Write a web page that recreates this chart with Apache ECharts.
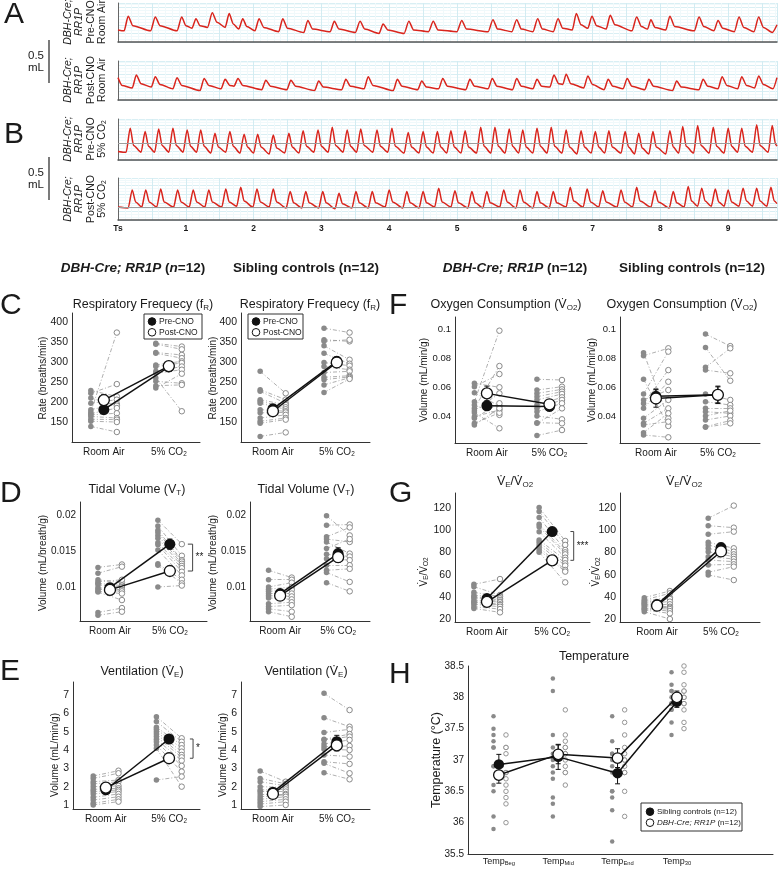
<!DOCTYPE html>
<html><head><meta charset="utf-8">
<script src="https://cdn.jsdelivr.net/npm/echarts@6.0.0/dist/echarts.min.js"></script>
<style>html,body{margin:0;padding:0;background:#fff}#c{width:778px;height:871px}</style>
</head><body><div id="c"></div>
<script>
// ===== Traces (time s, volume mL) =====
const traceA1 = [[0,0.14],[0.09,0.13],[0.15,0.30],[0.22,0.19],[0.48,0.13],[0.55,0.29],[0.62,0.19],[0.87,0.13],[0.94,0.29],[1.00,0.19],[1.09,0.16],[1.15,0.27],[1.21,0.19],[1.32,0.17],[1.39,0.34],[1.46,0.23],[1.58,0.17],[1.64,0.33],[1.70,0.21],[1.78,0.15],[1.84,0.27],[1.90,0.18],[2.02,0.13],[2.08,0.27],[2.15,0.17],[2.37,0.12],[2.43,0.27],[2.50,0.16],[2.74,0.11],[2.80,0.25],[2.87,0.15],[3.13,0.12],[3.19,0.24],[3.26,0.15],[3.50,0.11],[3.57,0.24],[3.64,0.15],[3.85,0.10],[3.91,0.21],[3.98,0.14],[4.22,0.10],[4.29,0.24],[4.36,0.14],[4.58,0.12],[4.65,0.24],[4.72,0.14],[5.00,0.12],[5.07,0.25],[5.14,0.15],[5.46,0.12],[5.53,0.26],[5.60,0.15],[5.81,0.12],[5.88,0.26],[5.95,0.15],[6.12,0.12],[6.19,0.27],[6.26,0.15],[6.42,0.12],[6.49,0.27],[6.56,0.16],[6.70,0.14],[6.76,0.33],[6.83,0.20],[6.93,0.16],[6.99,0.30],[7.06,0.19],[7.20,0.15],[7.26,0.31],[7.33,0.20],[7.58,0.13],[7.65,0.29],[7.72,0.18],[7.81,0.15],[7.86,0.26],[7.92,0.17],[8.08,0.14],[8.14,0.30],[8.21,0.18],[8.50,0.13],[8.57,0.29],[8.64,0.18],[8.79,0.13],[8.85,0.25],[8.92,0.16],[9.09,0.12],[9.16,0.29],[9.23,0.17],[9.38,0.12],[9.45,0.29],[9.52,0.17],[9.65,0.11],[9.72,0.20]];
const traceA2 = [[0,0.26],[0.06,0.17],[0.21,0.14],[0.27,0.29],[0.34,0.19],[0.49,0.15],[0.55,0.27],[0.62,0.18],[0.81,0.13],[0.87,0.26],[0.94,0.17],[1.21,0.11],[1.27,0.25],[1.34,0.17],[1.52,0.13],[1.58,0.24],[1.65,0.17],[1.71,0.16],[1.77,0.25],[1.84,0.17],[2.12,0.12],[2.18,0.23],[2.25,0.16],[2.49,0.12],[2.55,0.23],[2.62,0.16],[2.90,0.11],[2.96,0.22],[3.03,0.15],[3.30,0.12],[3.36,0.24],[3.43,0.16],[3.63,0.13],[3.69,0.27],[3.76,0.17],[4.06,0.11],[4.12,0.24],[4.19,0.16],[4.42,0.12],[4.48,0.22],[4.55,0.15],[4.73,0.13],[4.79,0.25],[4.86,0.16],[5.13,0.12],[5.19,0.24],[5.26,0.16],[5.46,0.13],[5.52,0.25],[5.59,0.16],[5.82,0.12],[5.88,0.25],[5.95,0.16],[6.12,0.13],[6.18,0.24],[6.25,0.16],[6.37,0.15],[6.43,0.29],[6.50,0.19],[6.56,0.18],[6.61,0.30],[6.68,0.19],[6.87,0.14],[6.93,0.28],[7.00,0.18],[7.17,0.12],[7.23,0.24],[7.30,0.16],[7.45,0.13],[7.51,0.25],[7.58,0.16],[7.77,0.12],[7.83,0.24],[7.90,0.16],[8.18,0.11],[8.24,0.22],[8.31,0.15],[8.57,0.12],[8.63,0.24],[8.70,0.16],[8.85,0.13],[8.91,0.27],[8.98,0.17],[9.14,0.13],[9.20,0.27],[9.27,0.17],[9.39,0.14],[9.45,0.28],[9.52,0.18],[9.66,0.13],[9.72,0.26]];
const traceB1 = [[0,0.10],[0.12,0.09],[0.18,0.37],[0.23,0.17],[0.34,0.09],[0.40,0.33],[0.45,0.16],[0.54,0.09],[0.60,0.36],[0.65,0.17],[0.75,0.09],[0.81,0.37],[0.86,0.17],[0.96,0.09],[1.02,0.35],[1.07,0.16],[1.16,0.09],[1.22,0.35],[1.27,0.16],[1.37,0.08],[1.43,0.31],[1.48,0.15],[1.59,0.09],[1.65,0.33],[1.70,0.16],[1.80,0.08],[1.86,0.30],[1.91,0.15],[2.00,0.08],[2.06,0.30],[2.11,0.15],[2.23,0.07],[2.29,0.29],[2.34,0.14],[2.46,0.08],[2.52,0.31],[2.57,0.15],[2.67,0.08],[2.73,0.34],[2.78,0.16],[2.89,0.09],[2.95,0.35],[3.00,0.16],[3.10,0.09],[3.16,0.38],[3.21,0.17],[3.32,0.09],[3.38,0.35],[3.43,0.16],[3.52,0.09],[3.58,0.36],[3.63,0.17],[3.76,0.09],[3.82,0.35],[3.87,0.16],[3.98,0.09],[4.04,0.37],[4.09,0.16],[4.22,0.08],[4.28,0.32],[4.33,0.15],[4.44,0.08],[4.50,0.33],[4.55,0.15],[4.65,0.08],[4.71,0.33],[4.76,0.15],[4.85,0.08],[4.91,0.34],[4.96,0.15],[5.06,0.08],[5.12,0.34],[5.17,0.15],[5.29,0.08],[5.35,0.38],[5.40,0.16],[5.50,0.08],[5.56,0.38],[5.61,0.16],[5.71,0.08],[5.77,0.36],[5.82,0.16],[5.91,0.08],[5.97,0.35],[6.02,0.15],[6.12,0.08],[6.18,0.37],[6.23,0.16],[6.33,0.08],[6.39,0.38],[6.44,0.16],[6.55,0.08],[6.61,0.35],[6.66,0.15],[6.77,0.07],[6.83,0.34],[6.88,0.15],[6.98,0.08],[7.04,0.33],[7.09,0.15],[7.18,0.08],[7.24,0.34],[7.29,0.15],[7.42,0.08],[7.48,0.33],[7.53,0.15],[7.62,0.07],[7.68,0.31],[7.73,0.14],[7.83,0.07],[7.89,0.33],[7.94,0.15],[8.08,0.07],[8.14,0.34],[8.19,0.15],[8.27,0.08],[8.33,0.39],[8.38,0.16],[8.49,0.08],[8.55,0.40],[8.60,0.17],[8.72,0.08],[8.78,0.38],[8.83,0.16],[8.94,0.08],[9.00,0.37],[9.05,0.16],[9.14,0.09],[9.20,0.37],[9.25,0.16],[9.36,0.09],[9.42,0.41],[9.47,0.17],[9.59,0.09],[9.65,0.40],[9.70,0.18],[9.72,0.16]];
const traceB2 = [[0,0.15],[0.15,0.14],[0.21,0.35],[0.26,0.21],[0.35,0.15],[0.41,0.35],[0.46,0.21],[0.57,0.15],[0.63,0.36],[0.68,0.21],[0.82,0.15],[0.88,0.35],[0.93,0.21],[1.05,0.15],[1.11,0.35],[1.16,0.21],[1.28,0.15],[1.34,0.35],[1.39,0.21],[1.53,0.15],[1.59,0.36],[1.64,0.21],[1.75,0.16],[1.81,0.38],[1.86,0.22],[1.99,0.15],[2.05,0.36],[2.10,0.21],[2.23,0.15],[2.29,0.36],[2.34,0.21],[2.48,0.14],[2.54,0.33],[2.59,0.20],[2.71,0.14],[2.77,0.33],[2.82,0.20],[2.96,0.14],[3.02,0.33],[3.07,0.20],[3.20,0.13],[3.26,0.31],[3.31,0.19],[3.45,0.14],[3.51,0.33],[3.56,0.20],[3.69,0.14],[3.75,0.33],[3.80,0.20],[3.94,0.15],[4.00,0.35],[4.05,0.21],[4.20,0.14],[4.26,0.33],[4.31,0.20],[4.44,0.14],[4.50,0.33],[4.55,0.20],[4.67,0.15],[4.73,0.37],[4.78,0.21],[4.91,0.15],[4.97,0.34],[5.02,0.20],[5.16,0.14],[5.22,0.33],[5.27,0.20],[5.38,0.14],[5.44,0.33],[5.49,0.20],[5.63,0.15],[5.69,0.35],[5.74,0.21],[5.87,0.14],[5.93,0.35],[5.98,0.21],[6.12,0.14],[6.18,0.33],[6.23,0.20],[6.36,0.14],[6.42,0.33],[6.47,0.20],[6.61,0.15],[6.67,0.38],[6.72,0.22],[6.86,0.15],[6.92,0.36],[6.97,0.21],[7.09,0.15],[7.15,0.34],[7.20,0.21],[7.36,0.15],[7.42,0.35],[7.47,0.21],[7.59,0.15],[7.65,0.38],[7.70,0.22],[7.86,0.15],[7.92,0.34],[7.97,0.21],[8.13,0.14],[8.19,0.33],[8.24,0.20],[8.35,0.15],[8.41,0.39],[8.46,0.22],[8.55,0.16],[8.61,0.37],[8.66,0.22],[8.75,0.16],[8.81,0.36],[8.86,0.21],[8.94,0.16],[9.00,0.35],[9.05,0.21],[9.16,0.16],[9.22,0.37],[9.27,0.22],[9.36,0.16],[9.42,0.37],[9.47,0.22],[9.57,0.16],[9.63,0.38],[9.68,0.22],[9.72,0.19]];
const traceTimeLabels = [0,1,2,3,4,5,6,7,8,9];
const traceBRefLevel = [0.2, 0.15];

// ===== Paired panels: categories, ticks =====
const conditions = ['Room Air', '5% CO2'];
const fR_ticks = [150,200,250,300,350,400];
const VT_ticks = [0.01,0.015,0.02];
const VE_ticks = [1,2,3,4,5,6,7];
const VO2_ticks = [0.04,0.06,0.08,0.1];
const VEVO2_ticks = [20,40,60,80,100,120];

// Respiratory frequency (breaths/min)
const fR_cre_preRA = [175,222,229,197,181,210,171,168,164,157,152,139];
const fR_cre_postRA = [374,245,214,206,195,191,185,172,160,156,150,125];
const fR_cre_preCO2 = [347,345,324,322,293,289,277,272,260,252,241,235];
const fR_cre_postCO2 = [339,332,318,310,302,298,289,281,177,247,243,271];
const fR_cre_mean = [181,205,288,290];
const fR_cre_sem = [8,14,10,9];
const fR_sib_preRA = [277,231,227,206,202,197,181,173,160,152,147,114];
const fR_sib_postRA = [222,206,197,193,187,182,177,174,168,160,156,124];
const fR_sib_preCO2 = [385,356,352,341,322,299,289,274,262,256,243,224];
const fR_sib_postCO2 = [374,352,356,306,296,291,281,277,266,263,261,258];
const fR_sib_mean = [183,177,302,299];
const fR_sib_sem = [10,8,11,9];

// Tidal volume (mL/breath/g)
const VT_cre_preRA = [0.0128,0.0120,0.0111,0.0108,0.0106,0.0104,0.0100,0.0098,0.0095,0.0094,0.0066,0.0062];
const VT_cre_postRA = [0.0132,0.0129,0.0107,0.0111,0.0103,0.0101,0.0097,0.0095,0.0092,0.0083,0.0072,0.0067];
const VT_cre_preCO2 = [0.0193,0.0185,0.0179,0.0176,0.0172,0.0168,0.0162,0.0159,0.0152,0.0133,0.0131,0.0101];
const VT_cre_postCO2 = [0.0160,0.0144,0.0138,0.0136,0.0133,0.0130,0.0127,0.0122,0.0117,0.0111,0.0106,0.0103];
const VT_cre_mean = [0.0100,0.0097,0.0160,0.0123];
const VT_cre_sem = [0.0006,0.0007,0.0007,0.0005];
const VT_sib_preRA = [0.0124,0.0111,0.0101,0.0098,0.0095,0.0092,0.0089,0.0086,0.0078,0.0074,0.0071,0.0067];
const VT_sib_postRA = [0.0114,0.0111,0.0107,0.0101,0.0097,0.0092,0.0088,0.0084,0.0080,0.0076,0.0067,0.0060];
const VT_sib_preCO2 = [0.0199,0.0186,0.0170,0.0167,0.0163,0.0154,0.0146,0.0140,0.0131,0.0124,0.0121,0.0107];
const VT_sib_postCO2 = [0.0172,0.0187,0.0183,0.0163,0.0147,0.0167,0.0143,0.0138,0.0131,0.0126,0.0108,0.0095];
const VT_sib_mean = [0.0092,0.0089,0.0147,0.0142];
const VT_sib_sem = [0.0005,0.0005,0.0008,0.0007];

// Ventilation (mL/min/g)
const VE_cre_preRA = [2.58,2.45,2.27,2.15,2.0,1.85,1.73,1.6,1.42,1.27,1.09,1.0];
const VE_cre_postRA = [2.87,2.73,2.36,2.27,2.04,1.91,1.82,1.73,1.6,1.45,1.31,1.18];
const VE_cre_preCO2 = [5.82,5.55,5.24,5.13,5.0,4.87,4.73,4.58,4.45,4.27,4.09,2.36];
const VE_cre_postCO2 = [4.64,4.45,4.27,4.09,3.91,3.73,3.6,3.42,3.13,2.82,2.0,2.55];
const VE_cre_mean = [1.83,1.95,4.6,3.55];
const VE_cre_sem = [0.14,0.15,0.2,0.25];
const VE_sib_preRA = [2.85,2.45,2.27,2.0,1.82,1.73,1.6,1.45,1.31,1.18,1.05,0.91];
const VE_sib_postRA = [2.27,2.15,2.04,1.96,1.85,1.73,1.6,1.55,1.45,1.31,1.18,1.0];
const VE_sib_preCO2 = [7.09,5.76,4.95,4.58,4.55,4.33,4.18,4.04,3.73,3.36,3.27,2.76];
const VE_sib_postCO2 = [6.18,5.27,5.13,4.87,4.73,4.55,4.22,4.0,3.64,3.24,2.73,2.4];
const VE_sib_mean = [1.7,1.6,4.45,4.25];
const VE_sib_sem = [0.15,0.13,0.35,0.3];

// Oxygen consumption (mL/min/g)
const VO2_cre_preRA = [0.0629,0.0606,0.0565,0.0503,0.048,0.0457,0.0441,0.0427,0.04,0.0389,0.0354,0.0343];
const VO2_cre_postRA = [0.0602,0.0693,0.0473,0.0991,0.0412,0.0748,0.056,0.032,0.0446,0.0492,0.0427,0.0457];
const VO2_cre_preCO2 = [0.0657,0.0583,0.056,0.0537,0.0515,0.048,0.0457,0.0434,0.0405,0.0359,0.0354,0.027];
const VO2_cre_postCO2 = [0.0652,0.0606,0.0588,0.0572,0.0556,0.0533,0.0515,0.0492,0.0382,0.0354,0.0457,0.0308];
const VO2_cre_mean = [0.0475,0.056,0.047,0.0485];
const VO2_cre_sem = [0.0022,0.005,0.003,0.0028];
const VO2_sib_preRA = [0.084,0.0819,0.0657,0.0556,0.0515,0.049,0.0457,0.0389,0.0354,0.0343,0.029,0.0274];
const VO2_sib_postRA = [0.0389,0.087,0.0336,0.0847,0.0583,0.072,0.064,0.0515,0.0457,0.0366,0.0423,0.0258];
const VO2_sib_preCO2 = [0.0968,0.0876,0.0739,0.072,0.0556,0.0503,0.0457,0.0434,0.0405,0.0377,0.0331,0.0327];
const VO2_sib_postCO2 = [0.0885,0.0647,0.087,0.0698,0.0515,0.048,0.0457,0.0423,0.0441,0.0405,0.0373,0.0354];
const VO2_sib_mean = [0.054,0.0525,0.055,0.055];
const VO2_sib_sem = [0.005,0.006,0.0055,0.006];

// VE/VO2
const VEVO2_cre_preRA = [51.3,49.2,44.1,41.7,40.2,39.3,37.2,35.7,35,33.3,31.1,29.6];
const VEVO2_cre_postRA = [56.1,41.7,40.2,38.7,37.2,35.7,35.1,33.3,32.7,31.1,29,26];
const VEVO2_cre_preCO2 = [120.6,117,111.6,105.5,103.4,98.9,91.4,89.3,86.9,84.5,82.3,80.2];
const VEVO2_cre_postCO2 = [90.5,86.9,82.3,80.2,78.4,75.4,73.3,70.3,68.2,64.3,62.8,53.1];
const VEVO2_cre_mean = [38.5,35.5,99,73];
const VEVO2_cre_sem = [2.5,2.5,3.5,3.5];
const VEVO2_sib_preRA = [39.3,37.2,36.5,35.1,34.2,33.3,32.2,31.1,29.6,29,28.1,26.6];
const VEVO2_sib_postRA = [45.3,43.2,39.3,38.1,35.7,33.3,31.1,30.2,29,27.2,25.1,20];
const VEVO2_sib_preCO2 = [111,104.3,96.5,89.3,86.9,83.9,80.8,76.3,73.3,68.8,62.2,59.8];
const VEVO2_sib_postCO2 = [122.4,102.5,98.9,83.9,80.8,78.4,76.3,74.2,71.8,69.4,67.3,55.2];
const VEVO2_sib_mean = [33,32,84.5,81];
const VEVO2_sib_sem = [1.5,2,4,4];

// Temperature (°C)
const tempPoints = ['Beg','Mid','End','30'];
const temp_ticks = [35.5,36,36.5,37,37.5,38,38.5];
const temp_sib = [
  [37.7,37.5,37.4,37.3,37.2,36.9,36.9,36.6,36.5,36.1,35.9,37.2],
  [38.3,38.1,37.4,37.2,37.1,36.9,36.8,36.7,36.4,36.3,36.1,37.0],
  [37.7,37.3,37.1,37.0,36.5,36.4,36.2,35.7,36.8,37.1,36.9,36.5],
  [38.4,38.2,38.1,37.9,37.8,37.6,37.4,38.0,37.9,37.8,38.1,37.9]];
const temp_cre = [
  [37.4,37.2,37.1,36.8,36.7,36.5,36.4,36.3,36.0,36.8,37.2,36.6],
  [37.8,37.4,37.2,37.1,36.9,36.8,36.6,37.0,37.2,36.8,37.1,37.3],
  [37.8,37.6,37.4,37.0,36.9,36.8,36.5,36.1,37.1,36.8,37.0,37.2],
  [38.5,38.4,38.2,38.1,38.0,37.9,37.8,37.6,37.5,38.0,37.9,38.1]];
const temp_sib_mean = [36.93,37.05,36.79,37.93];
const temp_sib_sem = [0.16,0.2,0.17,0.09];
const temp_cre_mean = [36.76,37.09,37.03,38.0];
const temp_cre_sem = [0.13,0.15,0.15,0.1];

// ===== Build chart =====
const F = '"Liberation Sans", Arial, Helvetica, sans-serif';
const INK = '#1a1a1a';
function rich(fs, lh) {
  const b = {fontSize: fs, fontFamily: F, color: INK, fill: INK};
  if (lh) b.lineHeight = lh;
  const sfs = Math.round(fs * 0.64 * 10) / 10;
  return {
    n: Object.assign({}, b),
    i: Object.assign({}, b, {fontStyle: 'italic'}),
    b: Object.assign({}, b, {fontWeight: 'bold'}),
    bi: Object.assign({}, b, {fontWeight: 'bold', fontStyle: 'italic'}),
    s: {fontSize: sfs, fontFamily: F, color: INK, fill: INK, verticalAlign: 'bottom', lineHeight: lh}
  };
}
function txt(x, y, text, fs, o) {
  o = o || {};
  const al = o.align || 'center', va = o.va || 'middle';
  return {type: 'text', x: x, y: y, rotation: o.rot || 0, z: 100, silent: true,
    style: {text: text, rich: rich(fs, o.lh), fontSize: fs, fontFamily: F, fill: INK,
      align: al, verticalAlign: va, textAlign: al, textVerticalAlign: va}};
}

const grids = [], xAxes = [], yAxes = [], series = [];

// traces
const traceDefs = [
  {data: traceA1, top: 3, bottom: 42},
  {data: traceA2, top: 61, bottom: 100},
  {data: traceB1, top: 119, bottom: 160, ref: traceBRefLevel[0]},
  {data: traceB2, top: 178, bottom: 220, ref: traceBRefLevel[1], labels: true}
];
traceDefs.forEach(function (d, k) {
  const h = d.bottom - d.top;
  grids.push({left: 118, top: d.top, width: 659, height: h});
  xAxes.push({type: 'value', gridIndex: k, min: 0, max: 9.72, interval: 0.5,
    axisLine: {show: true, onZero: false, lineStyle: {color: '#555', width: 1.5}},
    axisTick: {show: false},
    axisLabel: {show: !!d.labels, customValues: traceTimeLabels, margin: 4,
      formatter: function (v) { return v === 0 ? 'Ts' : String(v); },
      fontSize: 8.5, fontWeight: 'bold', fontFamily: F, color: INK},
    splitLine: {show: true, lineStyle: {color: '#d3ecf2', width: 1}},
    minorSplitLine: {show: true, lineStyle: {color: '#f0f9fb', width: 1}},
    minorTick: {show: false, splitNumber: 5}});
  yAxes.push({type: 'value', gridIndex: k, min: 0, max: h * 0.5 / 43, interval: 0.1,
    axisLine: {show: true, onZero: false, lineStyle: {color: '#666', width: 1}},
    axisTick: {show: false}, axisLabel: {show: false},
    splitLine: {show: true, lineStyle: {color: '#d9eff4', width: 1}},
    minorSplitLine: {show: true, lineStyle: {color: '#f0f9fb', width: 1}},
    minorTick: {show: false, splitNumber: 3}});
  const s = {type: 'line', xAxisIndex: k, yAxisIndex: k, data: d.data, symbol: 'none',
    smooth: 0.25, smoothMonotone: 'x',
    lineStyle: {color: '#d9251d', width: 1.5}, z: 3, silent: true};
  if (d.ref != null) s.markLine = {silent: true, symbol: 'none', label: {show: false},
    lineStyle: {color: '#9c9c9c', width: 1, type: 'solid'}, data: [{yAxis: d.ref}]};
  series.push(s);
});

const panelDefs = [
  {id: 'fR_cre', pre: [fR_cre_preRA, fR_cre_preCO2], post: [fR_cre_postRA, fR_cre_postCO2], mean: fR_cre_mean, sem: fR_cre_sem, box: [72,313,200,442], x: [0.51,2.48], y: [100,423], ticks: fR_ticks, fs: 10.5},
  {id: 'fR_sib', pre: [fR_sib_preRA, fR_sib_preCO2], post: [fR_sib_postRA, fR_sib_postCO2], mean: fR_sib_mean, sem: fR_sib_sem, box: [241,313,370,442], x: [0.5,2.52], y: [100,423], ticks: fR_ticks, fs: 10.5},
  {id: 'VT_cre', pre: [VT_cre_preRA, VT_cre_preCO2], post: [VT_cre_postRA, VT_cre_postCO2], mean: VT_cre_mean, sem: VT_cre_sem, box: [80,502,207,621], x: [0.5,2.62], y: [0.00542,0.0218], ticks: VT_ticks, fs: 10},
  {id: 'VT_sib', pre: [VT_sib_preRA, VT_sib_preCO2], post: [VT_sib_postRA, VT_sib_postCO2], mean: VT_sib_mean, sem: VT_sib_sem, box: [250,502,370,621], x: [0.48,2.55], y: [0.00542,0.0218], ticks: VT_ticks, fs: 10},
  {id: 'VE_cre', pre: [VE_cre_preRA, VE_cre_preCO2], post: [VE_cre_postRA, VE_cre_postCO2], mean: VE_cre_mean, sem: VE_cre_sem, box: [73,682,200,809], x: [0.48,2.49], y: [0.78,7.71], ticks: VE_ticks, fs: 10.5},
  {id: 'VE_sib', pre: [VE_sib_preRA, VE_sib_preCO2], post: [VE_sib_postRA, VE_sib_postCO2], mean: VE_sib_mean, sem: VE_sib_sem, box: [241,682,370,809], x: [0.5,2.52], y: [0.78,7.71], ticks: VE_ticks, fs: 10.5},
  {id: 'VO2_cre', pre: [VO2_cre_preRA, VO2_cre_preCO2], post: [VO2_cre_postRA, VO2_cre_postCO2], mean: VO2_cre_mean, sem: VO2_cre_sem, box: [455,317,587,443], x: [0.49,2.6], y: [0.0219,0.1085], ticks: VO2_ticks, fs: 9.5},
  {id: 'VO2_sib', pre: [VO2_sib_preRA, VO2_sib_preCO2], post: [VO2_sib_postRA, VO2_sib_postCO2], mean: VO2_sib_mean, sem: VO2_sib_sem, box: [620,317,760,443], x: [0.42,2.68], y: [0.0219,0.1085], ticks: VO2_ticks, fs: 9.5},
  {id: 'VEVO2_cre', pre: [VEVO2_cre_preRA, VEVO2_cre_preCO2], post: [VEVO2_cre_postRA, VEVO2_cre_postCO2], mean: VEVO2_cre_mean, sem: VEVO2_cre_sem, box: [455,493,590,622], x: [0.51,2.58], y: [17.3,133.8], ticks: VEVO2_ticks, fs: 10.5},
  {id: 'VEVO2_sib', pre: [VEVO2_sib_preRA, VEVO2_sib_preCO2], post: [VEVO2_sib_postRA, VEVO2_sib_postCO2], mean: VEVO2_sib_mean, sem: VEVO2_sib_sem, box: [620,493,760,622], x: [0.42,2.61], y: [17.3,133.8], ticks: VEVO2_ticks, fs: 10.5}
];

const DOT = '#8a8a8a', PAIR = '#9a9a9a';
function errSeries(gi, data) {
  return {type: 'custom', xAxisIndex: gi, yAxisIndex: gi, z: 6, silent: true, data: data,
    renderItem: function (params, api) {
      const x = api.value(0), m = api.value(1), e = api.value(2);
      const t = api.coord([x, m + e]), b = api.coord([x, m - e]);
      const hw = 2.5, st = {stroke: '#111', lineWidth: 1};
      return {type: 'group', children: [
        {type: 'line', shape: {x1: t[0], y1: t[1], x2: b[0], y2: b[1]}, style: st},
        {type: 'line', shape: {x1: t[0]-hw, y1: t[1], x2: t[0]+hw, y2: t[1]}, style: st},
        {type: 'line', shape: {x1: b[0]-hw, y1: b[1], x2: b[0]+hw, y2: b[1]}, style: st}]};
    }};
}
function valueAxis(gi, min, max, ticks, fs, margin) {
  return {type: 'value', gridIndex: gi, min: min, max: max,
    axisLine: {show: true, onZero: false, lineStyle: {color: '#333', width: 1}},
    axisTick: {show: false},
    axisLabel: {customValues: ticks, fontSize: fs, fontFamily: F, color: INK, margin: margin},
    splitLine: {show: false}};
}
const OFF_PRE = -0.2, OFF_POST = 0.2;
panelDefs.forEach(function (p, i) {
  const gi = 4 + i;
  grids.push({left: p.box[0], top: p.box[1], width: p.box[2]-p.box[0], height: p.box[3]-p.box[1]});
  const xa = valueAxis(gi, p.x[0], p.x[1], [1,2], 10, 5);
  xa.axisLabel.formatter = function (v) { return v === 1 ? '{n|' + conditions[0] + '}' : '{n|5% CO}{s|2}'; };
  xa.axisLabel.rich = rich(10);
  xAxes.push(xa);
  yAxes.push(valueAxis(gi, p.y[0], p.y[1], p.ticks, p.fs, 4));
  const pairs = [], preDots = [], postDots = [];
  [0, 1].forEach(function (c) {
    const cx = c + 1;
    p.pre[c].forEach(function (v, j) {
      pairs.push({coords: [[cx + OFF_PRE, v], [cx + OFF_POST, p.post[c][j]]]});
      preDots.push([cx + OFF_PRE, v]);
      postDots.push([cx + OFF_POST, p.post[c][j]]);
    });
  });
  series.push({type: 'lines', coordinateSystem: 'cartesian2d', xAxisIndex: gi, yAxisIndex: gi, z: 1, silent: true,
    data: pairs, lineStyle: {color: PAIR, width: 0.8, type: [4, 2, 1, 2], opacity: 1}});
  series.push({type: 'scatter', xAxisIndex: gi, yAxisIndex: gi, z: 2, silent: true, data: preDots,
    symbolSize: 5.5, itemStyle: {color: DOT, opacity: 1}});
  series.push({type: 'scatter', xAxisIndex: gi, yAxisIndex: gi, z: 2, silent: true, data: postDots,
    symbolSize: 5.5, itemStyle: {color: '#fff', borderColor: DOT, borderWidth: 1, opacity: 1}});
  series.push({type: 'line', xAxisIndex: gi, yAxisIndex: gi, z: 4, silent: true, symbol: 'none',
    data: [[1, p.mean[0]], [2, p.mean[2]]], lineStyle: {color: '#111', width: 1.5}});
  series.push({type: 'line', xAxisIndex: gi, yAxisIndex: gi, z: 4, silent: true, symbol: 'none',
    data: [[1, p.mean[1]], [2, p.mean[3]]], lineStyle: {color: '#111', width: 1.5}});
  series.push(errSeries(gi, [[1, p.mean[0], p.sem[0]], [1, p.mean[1], p.sem[1]], [2, p.mean[2], p.sem[2]], [2, p.mean[3], p.sem[3]]]));
  series.push({type: 'scatter', xAxisIndex: gi, yAxisIndex: gi, z: 7, silent: true,
    data: [[1, p.mean[0]], [2, p.mean[2]]], symbolSize: 11, itemStyle: {color: '#111', opacity: 1}});
  series.push({type: 'scatter', xAxisIndex: gi, yAxisIndex: gi, z: 8, silent: true,
    data: [[1, p.mean[1]], [2, p.mean[3]]], symbolSize: 11, itemStyle: {color: '#fff', borderColor: '#111', borderWidth: 1.3, opacity: 1}});
});

// Temperature panel
const HG = 14;
grids.push({left: 468, top: 666, width: 305, height: 188});
const hx = valueAxis(HG, 0.48, 5.62, [1,2,3,4], 9, 3);
hx.axisLabel.formatter = function (v) { return '{n|Temp}{s|' + tempPoints[v - 1] + '}'; };
hx.axisLabel.rich = rich(9);
xAxes.push(hx);
yAxes.push(valueAxis(HG, 35.5, 38.5, temp_ticks, 10, 4));
const sibDots = [], creDots = [];
temp_sib.forEach(function (arr, k) { arr.forEach(function (v) { sibDots.push([k + 1 - 0.09, v]); }); });
temp_cre.forEach(function (arr, k) { arr.forEach(function (v) { creDots.push([k + 1 + 0.12, v]); }); });
series.push({type: 'scatter', xAxisIndex: HG, yAxisIndex: HG, z: 2, silent: true, data: sibDots, symbolSize: 4.5, itemStyle: {color: DOT, opacity: 1}});
series.push({type: 'scatter', xAxisIndex: HG, yAxisIndex: HG, z: 2, silent: true, data: creDots, symbolSize: 4.5, itemStyle: {color: '#fff', borderColor: DOT, borderWidth: 0.9, opacity: 1}});
series.push({type: 'line', xAxisIndex: HG, yAxisIndex: HG, z: 4, silent: true, symbol: 'none',
  data: temp_sib_mean.map(function (v, k) { return [k + 1, v]; }), lineStyle: {color: '#111', width: 1.5}});
series.push({type: 'line', xAxisIndex: HG, yAxisIndex: HG, z: 4, silent: true, symbol: 'none',
  data: temp_cre_mean.map(function (v, k) { return [k + 1, v]; }), lineStyle: {color: '#111', width: 1.5}});
series.push(errSeries(HG, temp_sib_mean.map(function (v, k) { return [k + 1, v, temp_sib_sem[k]]; })
  .concat(temp_cre_mean.map(function (v, k) { return [k + 1, v, temp_cre_sem[k]]; }))));
series.push({type: 'scatter', xAxisIndex: HG, yAxisIndex: HG, z: 7, silent: true,
  data: temp_sib_mean.map(function (v, k) { return [k + 1, v]; }), symbolSize: 10.5, itemStyle: {color: '#111', opacity: 1}});
series.push({type: 'scatter', xAxisIndex: HG, yAxisIndex: HG, z: 8, silent: true,
  data: temp_cre_mean.map(function (v, k) { return [k + 1, v]; }), symbolSize: 10.5, itemStyle: {color: '#fff', borderColor: '#111', borderWidth: 1.3, opacity: 1}});

const chart = echarts.init(document.getElementById('c'), null, {renderer: 'canvas'});
chart.setOption({animation: false, backgroundColor: '#fff', grid: grids, xAxis: xAxes, yAxis: yAxes, series: series});

// ===== Annotations =====
const G = [];
[['A', 4, 15], ['B', 4, 135], ['C', 0, 306], ['D', 0, 494], ['E', 0, 672], ['F', 389, 306], ['G', 389, 494], ['H', 389, 675]]
  .forEach(function (l) { G.push(txt(l[1], l[2], '{n|' + l[0] + '}', 30, {align: 'left'})); });

const ROT = Math.PI / 2;
G.push(txt(85, 22, '{i|DBH-Cre;}\n{i|RR1P}\n{n|Pre-CNO}\n{n|Room Air}', 10.5, {rot: ROT, lh: 11.5}));
G.push(txt(85, 80, '{i|DBH-Cre;}\n{i|RR1P}\n{n|Post-CNO}\n{n|Room Air}', 10.5, {rot: ROT, lh: 11.5}));
G.push(txt(85, 139, '{i|DBH-Cre;}\n{i|RR1P}\n{n|Pre-CNO}\n{n|5% CO}{s|2}', 10.5, {rot: ROT, lh: 11.5}));
G.push(txt(85, 199, '{i|DBH-Cre;}\n{i|RR1P}\n{n|Post-CNO}\n{n|5% CO}{s|2}', 10.5, {rot: ROT, lh: 11.5}));

function barLen(gi) {
  const a = chart.convertToPixel({gridIndex: gi}, [0, 0]), b = chart.convertToPixel({gridIndex: gi}, [0, 0.5]);
  return a[1] - b[1];
}
[[0, 40], [2, 157]].forEach(function (s) {
  const L = barLen(s[0]);
  G.push({type: 'line', z: 100, silent: true, shape: {x1: 49, y1: s[1], x2: 49, y2: s[1] + L}, style: {stroke: '#222', lineWidth: 1.2}});
  G.push(txt(44, s[1] + L / 2, '{n|0.5}\n{n|mL}', 11.5, {align: 'right', lh: 12}));
});

G.push(txt(133, 268, '{bi|DBH-Cre; RR1P}{b| (}{bi|n}{b|=12)}', 13.5));
G.push(txt(306, 268, '{b|Sibling controls (n=12)}', 13.5));
G.push(txt(515, 268, '{bi|DBH-Cre; RR1P}{b| (n=12)}', 13.5));
G.push(txt(692, 268, '{b|Sibling controls (n=12)}', 13.5));

const tFR = '{n|Respiratory Frequecy (f}{s|R}{n|)}', tVT = '{n|Tidal Volume (V}{s|T}{n|)}',
  tVE = '{n|Ventilation (V\u0307}{s|E}{n|)}', tVO2 = '{n|Oxygen Consumption (V\u0307}{s|O2}{n|)}',
  tR = '{n|V\u0307}{s|E}{n|/V\u0307}{s|O2}';
[[143,305,tFR],[310,305,tFR],[137,490,tVT],[306,490,tVT],[142,672,tVE],[306,672,tVE],
 [506,305,tVO2],[682,305,tVO2],[515,482,tR],[684,482,tR],[594,657,'{n|Temperature}']]
  .forEach(function (t) { G.push(txt(t[0], t[1], t[2], 12.5)); });

[[43,378,'{n|Rate (breaths/min)}'],[213,378,'{n|Rate (breaths/min)}'],
 [43,563,'{n|Volume (mL/breath/g)}'],[213,563,'{n|Volume (mL/breath/g)}'],
 [55,755,'{n|Volume (mL/min/g)}'],[223,755,'{n|Volume (mL/min/g)}'],
 [424,380,'{n|Volume (mL/min/g)}'],[592,380,'{n|Volume (mL/min/g)}'],
 [424,572,tR],[596,572,tR]]
  .forEach(function (t) { G.push(txt(t[0], t[1], t[2], 10, {rot: ROT})); });
G.push(txt(437, 760, '{n|Temperature (°C)}', 12.5, {rot: ROT}));

// legends
function legend(x, y, w, h, cx, tx, rows, fs) {
  G.push({type: 'rect', z: 90, silent: true, shape: {x: x, y: y, width: w, height: h}, style: {fill: '#fff', stroke: '#333', lineWidth: 1}});
  rows.forEach(function (r) {
    G.push({type: 'circle', z: 95, silent: true, shape: {cx: cx, cy: r[0], r: 3.8},
      style: r[1] ? {fill: '#111', stroke: '#111', lineWidth: 1} : {fill: '#fff', stroke: '#111', lineWidth: 1}});
    G.push(txt(tx, r[0], r[2], fs, {align: 'left'}));
  });
}
legend(144, 314, 58, 25, 152, 159, [[321.5, true, '{n|Pre-CNO}'], [332.3, false, '{n|Post-CNO}']], 8.5);
legend(248, 314, 55, 25, 256, 263, [[321.5, true, '{n|Pre-CNO}'], [332.3, false, '{n|Post-CNO}']], 8.5);
legend(641, 803, 101, 28, 650, 657, [[811.7, true, '{n|Sibling controls (n=12)}'], [822.7, false, '{i|DBH-Cre; RR1P}{n| (n=12)}']], 8);

// significance brackets
[[2, 2.3, 2.38, '**'], [4, 2.33, 2.38, '*'], [8, 2.28, 2.33, '***']].forEach(function (b) {
  const p = panelDefs[b[0]], gi = 4 + b[0];
  const a = chart.convertToPixel({gridIndex: gi}, [b[1], p.mean[2]]);
  const c = chart.convertToPixel({gridIndex: gi}, [b[2], p.mean[3]]);
  G.push({type: 'polyline', z: 100, silent: true, shape: {points: [[a[0], a[1]], [c[0], a[1]], [c[0], c[1]], [a[0], c[1]]]},
    style: {stroke: '#444', lineWidth: 1, fill: null}});
  G.push(txt(c[0] + 3, (a[1] + c[1]) / 2, '{n|' + b[3] + '}', 10, {align: 'left'}));
});

chart.setOption({graphic: {elements: G}});
</script>
</body></html>
